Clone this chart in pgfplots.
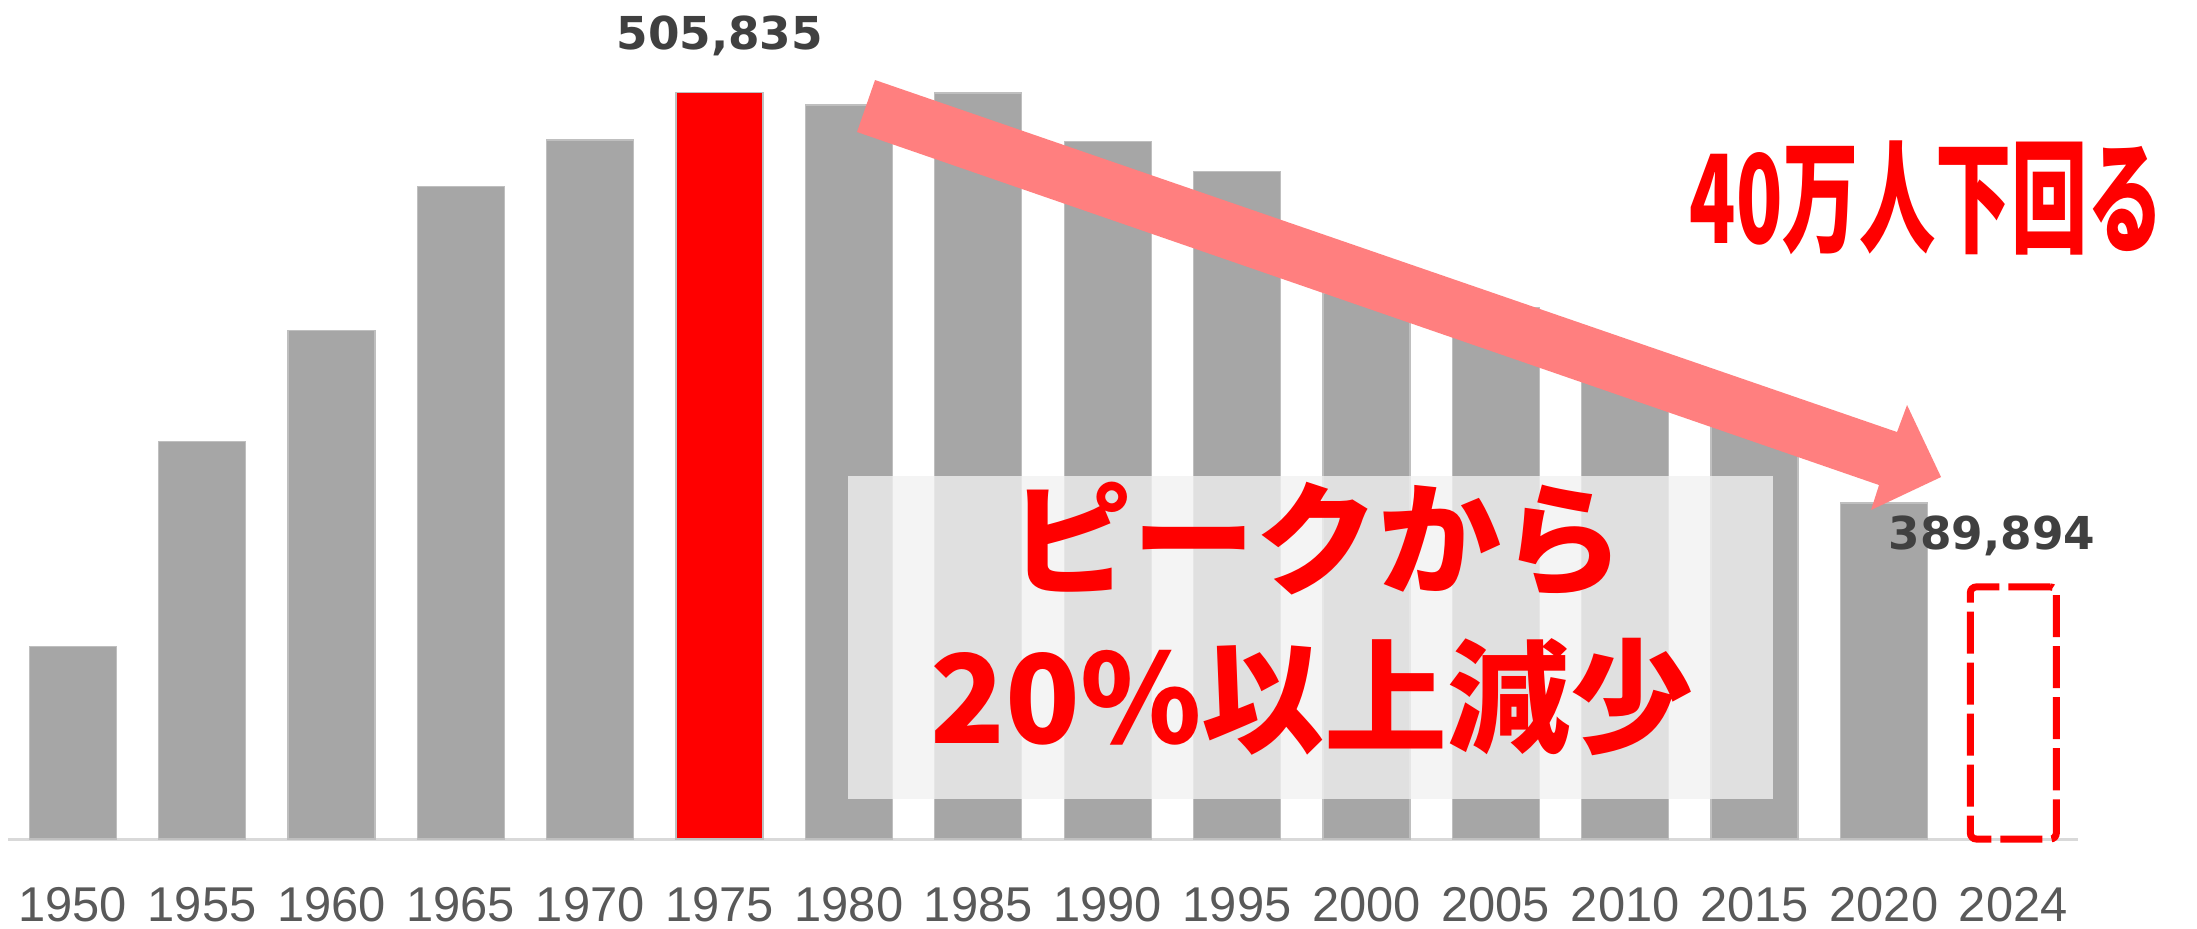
\documentclass[border=0pt]{standalone}
\usepackage{pgfplots}
\pgfplotsset{compat=1.18}
\usepackage{pgfplotstable}
\usepackage{fontspec}
\setmainfont{Liberation Sans}
\newfontfamily\cjk{Noto Sans CJK JP}
\newfontfamily\deja{DejaVu Sans}
\definecolor{bargray}{HTML}{A6A6A6}
\definecolor{baredge}{HTML}{BFBFBF}
\definecolor{tickgray}{HTML}{595959}
\definecolor{labgray}{HTML}{404040}
\definecolor{arrowpink}{HTML}{FF7F7F}
\definecolor{boxfill}{RGB}{241,241,241}
\definecolor{pureRed}{HTML}{FF0000}

\pgfplotstableread{
i v
0 349300
1 407300
2 438600
3 479300
4 492400
6 502300
7 505700
8 492000
9 483600
10 449200
11 445200
12 428900
13 417600
14 389894
}\graybars
\pgfplotstableread{
i v
5 505835
}\peakbar
\pgfplotstableread{
i v
15 366200
}\latestbar

\begin{document}
\begin{tikzpicture}
\begin{axis}[
  at={(0.8mm,-83.9mm)}, anchor=south west,
  scale only axis, width=207mm, height=83.9mm,
  xmin=-0.5, xmax=15.5, ymin=0, ymax=236934,
  clip=false,
  axis x line=bottom, axis y line=none,
  axis line style={-, draw=black!15, line width=0.3mm},
  xtick={0,...,15},
  xticklabels={1950,1955,1960,1965,1970,1975,1980,1985,1990,1995,2000,2005,2010,2015,2020,2024},
  major tick length=0pt,
  xticklabel style={font=\fontsize{13.9pt}{14pt}\selectfont, text=tickgray, anchor=north, inner sep=0pt, yshift=-4.8mm},
  ytick=\empty,
  ybar, bar width=8.7mm,
]
\addplot[ybar, bar shift=0pt, fill=bargray, draw=baredge, line width=0.12mm]
  table[x=i, y expr=\thisrow{v}-295000]{\graybars};
\addplot[ybar, bar shift=0pt, fill=pureRed, draw=baredge, line width=0.12mm]
  table[x=i, y expr=\thisrow{v}-295000]{\peakbar};
\addplot[ybar, bar shift=0pt, fill=none, draw=pureRed, line width=0.7mm, dash pattern=on 4.2mm off 0.9mm, rounded corners=0.6mm, bar width=8.6mm]
  table[x=i, y expr=\thisrow{v}-295000]{\latestbar};
\end{axis}
\begin{scope}[x=0.1mm, y=-0.1mm]
  % annotation box
  \fill[boxfill, fill opacity=0.78] (848,476) rectangle (1773,799);
  \node[anchor=center, text=pureRed, inner sep=0pt] at (1317,540)
    {\cjk\bfseries\fontsize{35pt}{35pt}\selectfont ピークから};
  \node[anchor=center, text=pureRed, inner sep=0pt] at (1312,697)
    {\cjk\bfseries\fontsize{35pt}{35pt}\selectfont 20\%以上減少};
  % value labels
  \node[anchor=base, text=labgray, inner sep=0pt] at (719.7,49)
    {\deja\bfseries\fontsize{12.9pt}{13pt}\selectfont 505,835};
  \node[anchor=base west, text=labgray, inner sep=0pt] at (1888,549)
    {\deja\bfseries\fontsize{12.9pt}{13pt}\selectfont 389,894};
  % arrow
  \fill[arrowpink] (875,80) -- (1897,432) -- (1907,405) -- (1941,477) -- (1871,510) -- (1879,485) -- (857,132) -- cycle;
  % headline
  \node[anchor=center, text=pureRed, inner sep=0pt] at (1927,198)
    {\scalebox{0.62}[1]{\cjk\bfseries\fontsize{35pt}{35pt}\selectfont 40万人下回る}};
\end{scope}
\pgfresetboundingbox
\path (0,0) rectangle (219.7mm,-92.8mm);
\end{tikzpicture}
\end{document}
